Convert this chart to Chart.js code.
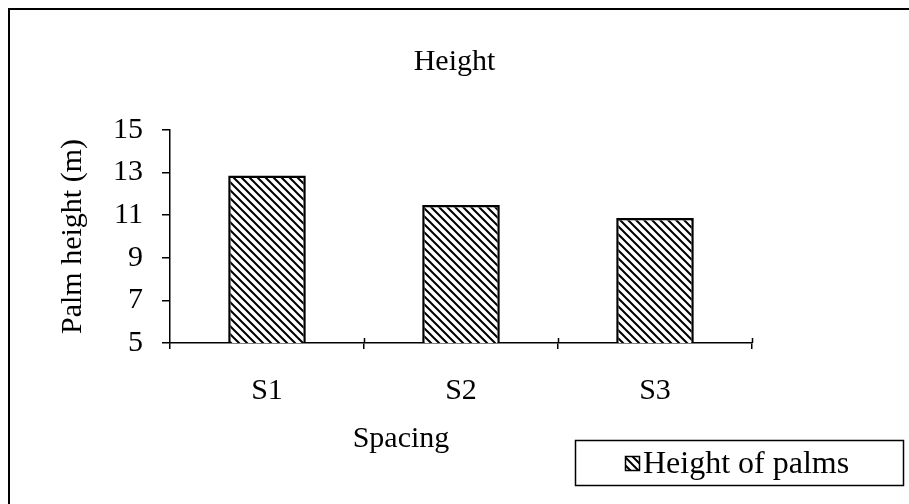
<!DOCTYPE html>
<html>
<head>
<meta charset="utf-8">
<script src="https://cdn.jsdelivr.net/npm/chart.js@4"></script>
<style>
  body { margin: 0; background: #fff; }
  #wrap { position: relative; width: 909px; height: 504px; }
</style>
</head>
<body>
<div id="wrap"><canvas id="grafico"></canvas></div>
<script>
const categorias = ['S1', 'S2', 'S3'];
const alturas = [12.86, 11.48, 10.87];
const nombreSerie = 'Height of palms';
const tituloGrafico = 'Height';
const tituloEjeY = 'Palm height (m)';
const tituloEjeX = 'Spacing';
const ejeYMin = 5, ejeYMax = 15, ejeYPaso = 2;

const FUENTE = "'Liberation Serif', 'Times New Roman', serif";

// rayado diagonal tipo "\\\" como en el original
function crearRayado() {
    const c = document.createElement('canvas');
    c.width = 8; c.height = 8;
    const g = c.getContext('2d');
    g.fillStyle = '#fff';
    g.fillRect(0, 0, 8, 8);
    g.strokeStyle = '#000';
    g.lineWidth = 2;
    g.beginPath();
    g.moveTo(-2, -2); g.lineTo(10, 10);
    g.moveTo(-6, 2); g.lineTo(6, 14);
    g.moveTo(2, -6); g.lineTo(14, 6);
    g.stroke();
    return g.createPattern(c, 'repeat');
}
const rayado = crearRayado();

// marco exterior, titulo del eje X, marcas cruzadas y leyenda
const extras = {
    id: 'extras',
    beforeDraw(chart) {
        const ctx = chart.ctx;
        ctx.save();
        ctx.fillStyle = '#fff';
        ctx.fillRect(0, 0, chart.width, chart.height);
        ctx.strokeStyle = '#000';
        ctx.lineWidth = 2;
        ctx.beginPath();
        ctx.moveTo(9, chart.height + 2);
        ctx.lineTo(9, 9);
        ctx.lineTo(chart.width + 2, 9);
        ctx.stroke();
        ctx.restore();
    },
    afterDraw(chart) {
        const ctx = chart.ctx;
        const x = chart.scales.x;
        ctx.save();
        // las marcas del eje X cruzan la linea hacia arriba tambien
        ctx.strokeStyle = '#000';
        ctx.lineWidth = 1.5;
        ctx.beginPath();
        for (let i = 1; i <= categorias.length; i++) {
            const px = Math.round(x.getPixelForValue(i - 0.5)) + 0.5;
            ctx.moveTo(px, x.top - 5);
            ctx.lineTo(px, x.top);
        }
        ctx.stroke();

        ctx.fillStyle = '#000';
        ctx.font = '30px ' + FUENTE;
        ctx.textAlign = 'center';
        ctx.textBaseline = 'alphabetic';
        ctx.fillText(tituloEjeX, 401, 447);

        // leyenda
        ctx.lineWidth = 1.5;
        ctx.strokeRect(575.5, 440.5, 328, 45);
        ctx.fillStyle = rayado;
        ctx.fillRect(625, 456, 15, 15);
        ctx.strokeRect(625.5, 456.5, 14, 14);
        ctx.fillStyle = '#000';
        ctx.font = '32px ' + FUENTE;
        ctx.textAlign = 'left';
        ctx.fillText(nombreSerie, 643, 473);
        ctx.restore();
    }
};

new Chart(document.getElementById('grafico'), {
    type: 'bar',
    data: {
        labels: categorias,
        datasets: [{
            label: nombreSerie,
            data: alturas,
            backgroundColor: rayado,
            borderColor: '#000',
            borderWidth: 2.5,
            borderSkipped: false,
            categoryPercentage: 1,
            barPercentage: 0.4
        }]
    },
    options: {
        responsive: true,
        maintainAspectRatio: false,
        animation: false,
        layout: { padding: 0 },
        plugins: {
            legend: { display: false },
            tooltip: { enabled: false },
            title: {
                display: true,
                text: tituloGrafico,
                color: '#000',
                font: { family: FUENTE, size: 30, weight: 'normal' },
                padding: { top: 44, bottom: 50 }
            }
        },
        scales: {
            x: {
                afterFit: (s) => { s.height = 161; },
                grid: { display: true, drawOnChartArea: false, drawTicks: true, tickLength: 6, color: '#000', lineWidth: 1.5, offset: true },
                border: { display: true, color: '#000', width: 1.5 },
                ticks: { color: '#000', font: { family: FUENTE, size: 30 }, padding: 24, maxRotation: 0 }
            },
            y: {
                min: ejeYMin,
                max: ejeYMax,
                afterFit: (s) => { s.width = 170; },
                grid: { display: true, drawOnChartArea: false, drawTicks: true, tickLength: 8, color: '#000', lineWidth: 1.5 },
                border: { display: true, color: '#000', width: 1.5 },
                ticks: { stepSize: ejeYPaso, color: '#000', font: { family: FUENTE, size: 30 }, padding: 19 },
                title: {
                    display: true,
                    text: tituloEjeY,
                    color: '#000',
                    font: { family: FUENTE, size: 30 },
                    padding: { top: 55, bottom: 0 }
                }
            },
            // eje vacio a la derecha: reserva el espacio de la leyenda
            margenDer: {
                type: 'linear',
                position: 'right',
                afterFit: (s) => { s.width = 157; },
                grid: { display: false },
                border: { display: false },
                ticks: { display: false }
            }
        }
    },
    plugins: [extras]
});
</script>
</body>
</html>
